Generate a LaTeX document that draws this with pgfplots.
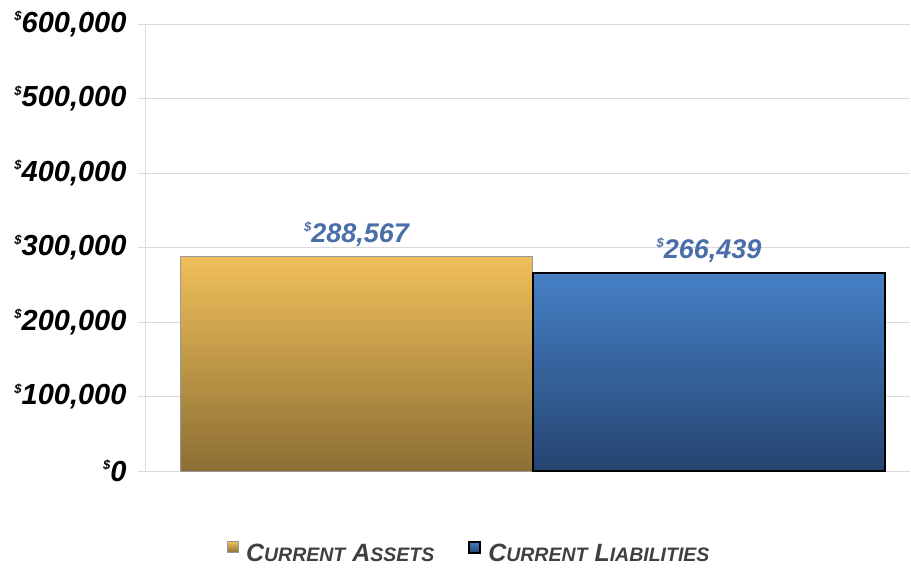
\documentclass[border=0pt]{standalone}
\usepackage{pgfplots}
\pgfplotsset{compat=1.18}
\usepackage{fontspec}
\setmainfont{Liberation Sans}
\definecolor{goldT}{HTML}{F0BF5A}
\definecolor{goldB}{HTML}{8C6F34}
\definecolor{blueT}{HTML}{4680C6}
\definecolor{blueB}{HTML}{254470}
\definecolor{lblblue}{HTML}{4A6EA8}
\definecolor{legtext}{HTML}{404040}
\definecolor{gridc}{HTML}{D9D9D9}
\newcommand{\lsc}[2]{#1{\fontsize{19.5bp}{21bp}\selectfont #2}}
\newcommand{\dol}{\raisebox{0.75ex}{\fontsize{13bp}{13bp}\selectfont\$}}
\begin{document}
\begin{tikzpicture}
\useasboundingbox (-145bp,-97bp) rectangle (766bp,471bp);
\begin{axis}[
  ybar,
  legend image code/.code={\draw[#1] (0bp,1bp) rectangle (11bp,12bp);},
  scale only axis,
  width=765bp, height=447bp,
  xmin=-0.6, xmax=1.57,
  ymin=0, ymax=600000,
  ytick={0,100000,200000,300000,400000,500000,600000},
  yticklabels={\dol0,\dol100{,}000,\dol200{,}000,\dol300{,}000,\dol400{,}000,\dol500{,}000,\dol600{,}000},
  xtick=\empty,
  bar width=1,
  axis lines=left,
  axis line style={draw=gridc, -},
  ymajorgrids,
  grid style={draw=gridc, line width=0.8bp},
  major tick length=7bp,
  ytick align=outside,
  ytick pos=left,
  tick style={draw=gridc, line width=0.8bp},
  scaled y ticks=false,
  yticklabel style={font=\fontsize{29bp}{31bp}\selectfont\bfseries\itshape, text=black, xshift=-8bp},
  point meta=explicit symbolic,
  nodes near coords,
  every node near coord/.append style={text=lblblue, font=\fontsize{27bp}{29bp}\selectfont\bfseries\itshape, yshift=6bp},
  legend columns=2,
  legend style={draw=none, fill=none, at={(0.424,-0.183)}, anchor=center,
    font=\fontsize{25bp}{27bp}\selectfont\bfseries\itshape, text=legtext,
    /tikz/every odd column/.append style={column sep=5bp},
    /tikz/every even column/.append style={column sep=32bp}},
]
\addplot[bar shift=0pt, top color=goldT, bottom color=goldB, draw=gray!80, line width=0.8bp]
  coordinates {(0,288567) [\dol288{,}567]};
\addlegendentry{\lsc{C}{URRENT} \lsc{A}{SSETS}}
\addplot[bar shift=0pt, top color=blueT, bottom color=blueB, draw=black, line width=2bp]
  coordinates {(1,266439) [\dol266{,}439]};
\addlegendentry{\lsc{C}{URRENT} \lsc{L}{IABILITIES}}
\end{axis}
\end{tikzpicture}
\end{document}
